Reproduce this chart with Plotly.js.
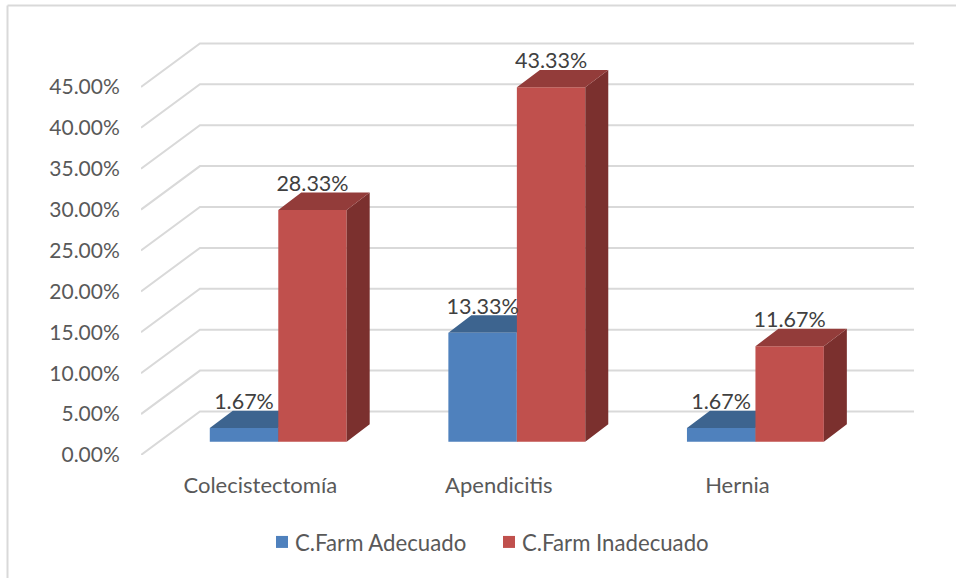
<!DOCTYPE html>
<html>
<head>
<meta charset="utf-8">
<script src="https://cdn.plot.ly/plotly-3.0.1.min.js"></script>
<style>html,body{margin:0;padding:0;background:#fff;}#chart{width:956px;height:578px;}</style>
</head>
<body>
<div id="chart"></div>
<script>
// Surgery categories and pharmaceutical-care percentages per series
const categories = ["Colecistectomía", "Apendicitis", "Hernia"];
const adecuado = [1.67, 13.33, 1.67];
const inadecuado = [28.33, 43.33, 11.67];
const adecuadoLabels = ["1.67%", "13.33%", "1.67%"];
const inadecuadoLabels = ["28.33%", "43.33%", "11.67%"];
const seriesNames = ["C.Farm Adecuado", "C.Farm Inadecuado"];
const yTicks = [0, 5, 10, 15, 20, 25, 30, 35, 40, 45];
const yTickLabels = ["0.00%", "5.00%", "10.00%", "15.00%", "20.00%", "25.00%", "30.00%", "35.00%", "40.00%", "45.00%"];

// Oblique projection: how far each depth plane shifts, in axis units
const X_RANGE = [-0.5, 2.74];
const Y_RANGE = [0, 50.49];
const WALL_DX = 0.247, WALL_DY = 5.32;   // side wall to back wall
const FLOOR_LIFT = 1.63;                 // front face of the bars above the axis plane
const BAR_DX = 0.0964, BAR_DY = 2.12;    // bar depth
const BAR_W = 0.2867;
const BLUE_OFFSET = -0.0683, RED_OFFSET = 0.2188;
const LABEL_GAP = 2.95;

const FONT = "Lato, 'Open Sans', sans-serif";
const AXIS_COLOR = "#595959";

const centers = (off) => categories.map((_, i) => i + off);

// Walls: one polyline per tick, across the side wall and along the back wall
function gridTrace() {
  const x = [], y = [];
  yTicks.forEach(v => {
    x.push(X_RANGE[0], X_RANGE[0] + WALL_DX, X_RANGE[1], null);
    y.push(v, v + WALL_DY, v + WALL_DY, null);
  });
  return { type: "scatter", mode: "lines", x, y, showlegend: false, hoverinfo: "skip",
           line: { color: "#d9d9d9", width: 2 }, xaxis: "x", yaxis: "y" };
}

// Extruded faces of a bar series, derived from its values
function faceTrace(values, off, kind, color, xa, ya) {
  const x = [], y = [];
  values.forEach((v, i) => {
    const l = i + off - BAR_W / 2, r = i + off + BAR_W / 2;
    const b = FLOOR_LIFT, t = FLOOR_LIFT + v;
    if (kind === "top") {
      x.push(l, r, r + BAR_DX, l + BAR_DX, l, null);
      y.push(t, t, t + BAR_DY, t + BAR_DY, t, null);
    } else {
      x.push(r, r + BAR_DX, r + BAR_DX, r, r, null);
      y.push(b, b + BAR_DY, t + BAR_DY, t, b, null);
    }
  });
  return { type: "scatter", mode: "lines", x, y, fill: "toself", fillcolor: color,
           line: { width: 0, color: color }, showlegend: false, hoverinfo: "skip",
           xaxis: xa, yaxis: ya };
}

function frontTrace(values, off, color, name) {
  return { type: "bar", name, x: centers(off), y: values, base: values.map(() => FLOOR_LIFT),
           width: values.map(() => BAR_W), marker: { color, line: { width: 0 } },
           hoverinfo: "skip", xaxis: "x2", yaxis: "y2" };
}

function labelTrace(values, off, labels) {
  return { type: "scatter", mode: "text", x: centers(off),
           y: values.map(v => v + FLOOR_LIFT + LABEL_GAP), text: labels,
           textposition: "middle center", textfont: { family: FONT, size: 21.5, color: "#404040" },
           showlegend: false, hoverinfo: "skip", xaxis: "x2", yaxis: "y2", cliponaxis: false };
}

const traces = [
  gridTrace(),
  faceTrace(adecuado, BLUE_OFFSET, "side", "#2f4f73", "x", "y"),
  faceTrace(adecuado, BLUE_OFFSET, "top", "#3d648f", "x", "y"),
  frontTrace(adecuado, BLUE_OFFSET, "#4f81bd", seriesNames[0]),
  frontTrace(inadecuado, RED_OFFSET, "#c0504d", seriesNames[1]),
  faceTrace(inadecuado, RED_OFFSET, "side", "#7b302e", "x2", "y2"),
  faceTrace(inadecuado, RED_OFFSET, "top", "#933c3a", "x2", "y2"),
  labelTrace(adecuado, BLUE_OFFSET, adecuadoLabels),
  labelTrace(inadecuado, RED_OFFSET, inadecuadoLabels)
];

const M = { l: 141, r: 42, t: 42, b: 123 };
const PW = 956 - M.l - M.r, PH = 578 - M.t - M.b;
const paperX = (px) => (px - M.l) / PW;
const paperY = (py) => (578 - M.b - py) / PH;

const layout = {
  width: 956, height: 578, margin: M,
  paper_bgcolor: "#ffffff", plot_bgcolor: "rgba(0,0,0,0)",
  barmode: "overlay", hovermode: false, showlegend: true,
  font: { family: FONT, size: 21, color: AXIS_COLOR },
  xaxis: { range: X_RANGE, tickvals: categories.map((_, i) => i), ticktext: categories,
           ticks: "outside", ticklen: 11, tickcolor: "rgba(0,0,0,0)", showgrid: false,
           zeroline: false, showline: false, tickfont: { family: FONT, size: 22, color: AXIS_COLOR } },
  yaxis: { range: Y_RANGE, tickvals: yTicks, ticktext: yTickLabels,
           ticks: "outside", ticklen: 16, tickcolor: "rgba(0,0,0,0)", showgrid: false,
           zeroline: false, showline: false, tickfont: { family: FONT, size: 21, color: AXIS_COLOR } },
  xaxis2: { range: X_RANGE, overlaying: "x", visible: false },
  yaxis2: { range: Y_RANGE, overlaying: "y", visible: false },
  legend: { orientation: "h", x: paperX(255), xanchor: "left", y: paperY(542), yanchor: "middle",
            entrywidth: 182, entrywidthmode: "pixels", traceorder: "normal",
            bgcolor: "rgba(0,0,0,0)", font: { family: FONT, size: 22.2, color: AXIS_COLOR } },
  shapes: [
    { type: "line", xref: "paper", yref: "paper", x0: paperX(7.5), x1: paperX(7.5), y0: paperY(5.5), y1: paperY(578),
      line: { color: "#d9d9d9", width: 2 } },
    { type: "line", xref: "paper", yref: "paper", x0: paperX(7.5), x1: paperX(956), y0: paperY(5.5), y1: paperY(5.5),
      line: { color: "#d9d9d9", width: 2 } }
  ]
};

Plotly.newPlot("chart", traces, layout, { displayModeBar: false, responsive: false }).then(() => {
  // Tighten the gap between each legend swatch and its text
  document.querySelectorAll("#chart .legend .legendpoints").forEach(g => {
    g.setAttribute("transform", "translate(7,0)");
  });
});
</script>
</body>
</html>
